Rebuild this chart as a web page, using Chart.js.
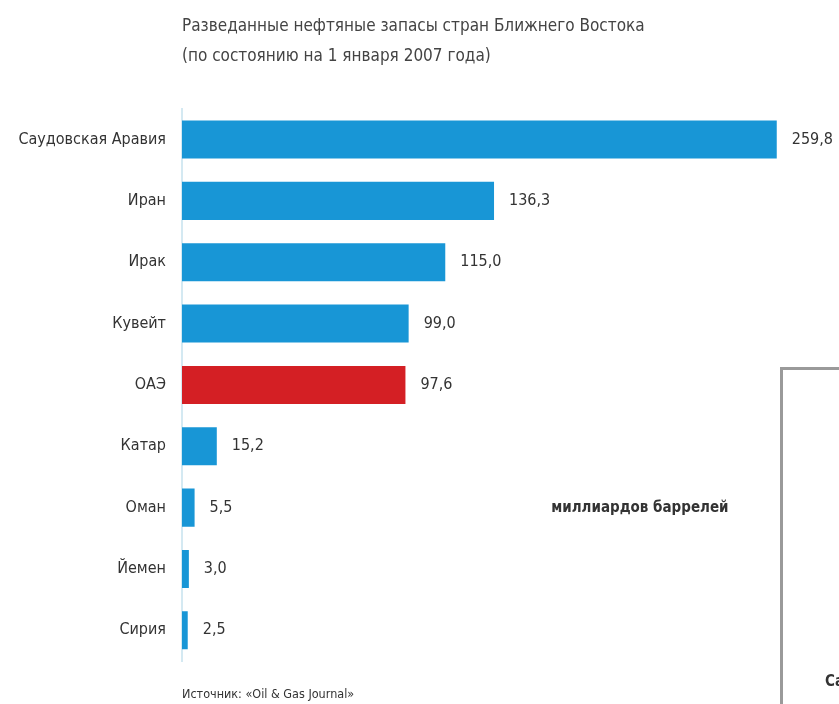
<!DOCTYPE html>
<html>
<head>
<meta charset="utf-8">
<script src="https://cdn.jsdelivr.net/npm/chart.js@4"></script>
<style>
  html, body { margin: 0; padding: 0; background: #fff; }
  #wrap { position: relative; width: 839px; height: 704px; overflow: hidden; }
  #chart { position: absolute; left: 0; top: 0; }
  /* edge of the neighbouring picture, cut off at the right */
  #edge { position: absolute; left: 780px; top: 367px; width: 80px; height: 340px;
          border-left: 3px solid #9a9a9a; border-top: 3px solid #9a9a9a; box-sizing: border-box;
          font: bold 15px "DejaVu Sans Condensed", sans-serif; color: #333; }
  #edge span { position: absolute; left: 42px; top: 302px; }
</style>
</head>
<body>
<div id="wrap">
  <canvas id="chart" width="839" height="704"></canvas>
  <div id="edge"><span>Са</span></div>
</div>
<script>
/* ── Data ── */
const countries = ['Саудовская Аравия', 'Иран', 'Ирак', 'Кувейт', 'ОАЭ', 'Катар', 'Оман', 'Йемен', 'Сирия'];
const reserves  = [259.8, 136.3, 115.0, 99.0, 97.6, 15.2, 5.5, 3.0, 2.5];
const barColors = ['#1896d6', '#1896d6', '#1896d6', '#1896d6', '#d41f24', '#1896d6', '#1896d6', '#1896d6', '#1896d6'];
const titleLines = ['Разведанные нефтяные запасы стран Ближнего Востока', '(по состоянию на 1 января 2007 года)'];
const unitNote   = 'миллиардов баррелей';
const sourceNote = 'Источник: «Oil & Gas Journal»';

const FONT = '"DejaVu Sans Condensed", "Liberation Sans Narrow", sans-serif';
const fmt = v => v.toFixed(1).replace('.', ',');

/* ── Value labels + notes ── */
const notesPlugin = {
  id: 'notes',
  afterDatasetsDraw(chart) {
    const c = chart.ctx;
    const meta = chart.getDatasetMeta(0);
    c.save();
    c.fillStyle = '#333';
    c.font = '16px ' + FONT;
    c.textAlign = 'left'; c.textBaseline = 'middle';
    meta.data.forEach((bar, i) => c.fillText(fmt(reserves[i]), bar.x + 15, bar.y));

    const x = chart.scales.x, y = chart.scales.y;
    c.font = 'bold 15px ' + FONT;
    c.textAlign = 'center';
    c.fillText(unitNote, x.getPixelForValue(200), y.getPixelForValue(6));

    c.font = '12.5px ' + FONT;
    c.textAlign = 'left';
    c.fillText(sourceNote, chart.chartArea.left, chart.chartArea.bottom + 34);
    c.restore();
  }
};

new Chart(document.getElementById('chart'), {
  type: 'bar',
  data: {
    labels: countries,
    datasets: [{ data: reserves, backgroundColor: barColors, borderWidth: 0,
                 categoryPercentage: 0.62, barPercentage: 1 }]
  },
  options: {
    indexAxis: 'y', responsive: false, animation: false,
    layout: { padding: { top: 0, right: 16, bottom: 43, left: 0 } },
    plugins: {
      legend: { display: false }, tooltip: { enabled: false },
      title: {
        display: true, text: titleLines, align: 'start', fullSize: false,
        color: '#444', font: { family: FONT, size: 17, weight: 'normal', lineHeight: 1.76 },
        padding: { top: 12, bottom: 37 }
      }
    },
    scales: {
      x: { display: false, min: 0, max: 280 },
      y: {
        grid: { color: 'transparent', drawTicks: false },
        border: { display: true, color: '#d4e9f2', width: 2 },
        ticks: { color: '#333', padding: 16, font: { family: FONT, size: 16 } },
        afterFit: s => { s.width = 182; }
      }
    }
  },
  plugins: [notesPlugin]
});
</script>
</body>
</html>
